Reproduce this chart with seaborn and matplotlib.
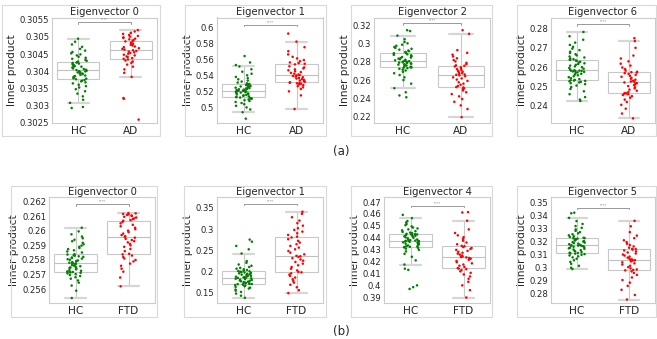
import numpy as np
import pandas as pd
import matplotlib
matplotlib.use("Agg")
import matplotlib.pyplot as plt
import seaborn as sns
from matplotlib.patches import Rectangle
from matplotlib.ticker import MultipleLocator, FuncFormatter

# values (sorted per group)
a0_hc = [0.30292, 0.30295, 0.30307, 0.30316, 0.30326, 0.30334, 0.30341, 0.30347, 0.30352, 0.30356, 0.30360, 0.30364, 0.30367, 0.30370, 0.30372, 0.30374,
         0.30376, 0.30378, 0.30379, 0.30382, 0.30384, 0.30385, 0.30387, 0.30389, 0.30391, 0.30393, 0.30394, 0.30396, 0.30397, 0.30399, 0.30400, 0.30401,
         0.30403, 0.30404, 0.30406, 0.30408, 0.30409, 0.30411, 0.30413, 0.30414, 0.30416, 0.30417, 0.30419, 0.30421, 0.30422, 0.30424, 0.30425, 0.30426,
         0.30428, 0.30430, 0.30433, 0.30436, 0.30439, 0.30442, 0.30446, 0.30449, 0.30452, 0.30456, 0.30460, 0.30465, 0.30471, 0.30478, 0.30486, 0.30495]
a0_ad = [0.30258, 0.30319, 0.30321, 0.30383, 0.30395, 0.30405, 0.30413, 0.30419, 0.30424, 0.30428, 0.30431, 0.30434,
         0.30436, 0.30438, 0.30441, 0.30443, 0.30446, 0.30448, 0.30451, 0.30453, 0.30455, 0.30457, 0.30459, 0.30461,
         0.30463, 0.30465, 0.30467, 0.30470, 0.30472, 0.30475, 0.30477, 0.30480, 0.30482, 0.30484, 0.30487, 0.30489,
         0.30491, 0.30493, 0.30495, 0.30497, 0.30499, 0.30501, 0.30503, 0.30506, 0.30509, 0.30512, 0.30516, 0.30520]

a1_hc = [0.4860, 0.4940, 0.4975, 0.5000, 0.5020, 0.5040, 0.5055, 0.5068, 0.5080, 0.5090, 0.5098, 0.5105, 0.5112, 0.5118, 0.5123, 0.5128,
         0.5132, 0.5138, 0.5144, 0.5150, 0.5156, 0.5162, 0.5168, 0.5174, 0.5180, 0.5185, 0.5190, 0.5195, 0.5199, 0.5203, 0.5206, 0.5208,
         0.5212, 0.5216, 0.5221, 0.5226, 0.5231, 0.5236, 0.5241, 0.5246, 0.5251, 0.5256, 0.5261, 0.5267, 0.5273, 0.5279, 0.5284, 0.5288,
         0.5292, 0.5300, 0.5310, 0.5322, 0.5335, 0.5350, 0.5365, 0.5380, 0.5400, 0.5420, 0.5445, 0.5475, 0.5510, 0.5528, 0.5560, 0.5640]
a1_ad = [0.4980, 0.5150, 0.5200, 0.5230, 0.5250, 0.5265, 0.5278, 0.5288, 0.5295, 0.5300, 0.5305, 0.5308,
         0.5312, 0.5320, 0.5328, 0.5336, 0.5344, 0.5352, 0.5360, 0.5368, 0.5376, 0.5384, 0.5392, 0.5398,
         0.5402, 0.5410, 0.5420, 0.5430, 0.5440, 0.5450, 0.5462, 0.5474, 0.5486, 0.5498, 0.5512, 0.5536,
         0.5544, 0.5552, 0.5560, 0.5575, 0.5590, 0.5610, 0.5630, 0.5660, 0.5700, 0.5750, 0.5820, 0.5920]

a2_hc = [0.2410, 0.2430, 0.2465, 0.2510, 0.2560, 0.2600, 0.2630, 0.2655, 0.2675, 0.2690, 0.2705, 0.2715, 0.2724, 0.2731, 0.2736, 0.2738,
         0.2742, 0.2748, 0.2754, 0.2760, 0.2765, 0.2770, 0.2775, 0.2780, 0.2784, 0.2788, 0.2792, 0.2796, 0.2800, 0.2803, 0.2806, 0.2808,
         0.2812, 0.2818, 0.2824, 0.2830, 0.2836, 0.2842, 0.2848, 0.2854, 0.2860, 0.2866, 0.2872, 0.2878, 0.2884, 0.2890, 0.2895, 0.2898,
         0.2902, 0.2910, 0.2918, 0.2926, 0.2935, 0.2945, 0.2955, 0.2965, 0.2978, 0.2990, 0.3005, 0.3020, 0.3050, 0.3090, 0.3140, 0.3150]
a2_ad = [0.2190, 0.2280, 0.2320, 0.2360, 0.2390, 0.2420, 0.2445, 0.2465, 0.2485, 0.2500, 0.2510, 0.2518,
         0.2522, 0.2535, 0.2548, 0.2560, 0.2575, 0.2590, 0.2605, 0.2618, 0.2630, 0.2642, 0.2652, 0.2658,
         0.2662, 0.2668, 0.2676, 0.2684, 0.2692, 0.2700, 0.2710, 0.2720, 0.2730, 0.2740, 0.2750, 0.2758,
         0.2762, 0.2775, 0.2790, 0.2805, 0.2820, 0.2840, 0.2860, 0.2880, 0.2900, 0.2930, 0.3110, 0.3150]

a3_hc = [0.2425, 0.2432, 0.2445, 0.2460, 0.2475, 0.2487, 0.2497, 0.2505, 0.2512, 0.2517, 0.2521, 0.2524, 0.2527, 0.2529, 0.2531, 0.2532,
         0.2534, 0.2538, 0.2543, 0.2548, 0.2553, 0.2558, 0.2562, 0.2566, 0.2570, 0.2573, 0.2576, 0.2578, 0.2580, 0.2581, 0.2582, 0.2582,
         0.2584, 0.2588, 0.2592, 0.2596, 0.2600, 0.2604, 0.2608, 0.2612, 0.2616, 0.2620, 0.2624, 0.2628, 0.2632, 0.2635, 0.2638, 0.2639,
         0.2641, 0.2645, 0.2650, 0.2655, 0.2661, 0.2667, 0.2673, 0.2680, 0.2688, 0.2696, 0.2705, 0.2715, 0.2727, 0.2742, 0.2760, 0.2782]
a3_ad = [0.2335, 0.2360, 0.2385, 0.2405, 0.2420, 0.2432, 0.2442, 0.2450, 0.2456, 0.2460, 0.2463, 0.2464,
         0.2466, 0.2472, 0.2478, 0.2484, 0.2490, 0.2496, 0.2502, 0.2507, 0.2512, 0.2517, 0.2521, 0.2524,
         0.2526, 0.2530, 0.2535, 0.2540, 0.2545, 0.2550, 0.2555, 0.2560, 0.2565, 0.2569, 0.2572, 0.2574,
         0.2576, 0.2582, 0.2590, 0.2598, 0.2608, 0.2618, 0.2630, 0.2645, 0.2660, 0.2700, 0.2735, 0.2750]

b0_hc = [0.25540, 0.25590, 0.25625, 0.25645, 0.25660, 0.25672, 0.25682, 0.25690, 0.25697, 0.25703, 0.25708, 0.25712, 0.25715, 0.25717, 0.25718, 0.25719,
         0.25721, 0.25726, 0.25731, 0.25736, 0.25741, 0.25745, 0.25749, 0.25753, 0.25757, 0.25761, 0.25765, 0.25769, 0.25772, 0.25775, 0.25777, 0.25779,
         0.25781, 0.25785, 0.25789, 0.25793, 0.25797, 0.25801, 0.25805, 0.25809, 0.25813, 0.25817, 0.25821, 0.25825, 0.25829, 0.25833, 0.25837, 0.25839,
         0.25851, 0.25858, 0.25866, 0.25874, 0.25882, 0.25890, 0.25898, 0.25907, 0.25917, 0.25928, 0.25938, 0.25948, 0.25960, 0.25975, 0.25995, 0.26020]
b0_ftd = [0.25620, 0.25680, 0.25720, 0.25740, 0.25760, 0.25775, 0.25790, 0.25800, 0.25810, 0.25820, 0.25830, 0.25838,
          0.25842, 0.25860, 0.25875, 0.25890, 0.25900, 0.25910, 0.25920, 0.25928, 0.25936, 0.25944, 0.25952, 0.25958,
          0.25962, 0.25970, 0.25980, 0.25990, 0.26000, 0.26010, 0.26020, 0.26030, 0.26040, 0.26050, 0.26060, 0.26068,
          0.26072, 0.26078, 0.26084, 0.26090, 0.26095, 0.26100, 0.26104, 0.26108, 0.26112, 0.26115, 0.26118, 0.26120]

b1_hc = [0.1370, 0.1420, 0.1470, 0.1510, 0.1540, 0.1565, 0.1590, 0.1610, 0.1630, 0.1645, 0.1660, 0.1672, 0.1682, 0.1690, 0.1695, 0.1698,
         0.1702, 0.1712, 0.1722, 0.1732, 0.1742, 0.1752, 0.1762, 0.1772, 0.1782, 0.1792, 0.1802, 0.1812, 0.1822, 0.1832, 0.1842, 0.1848,
         0.1852, 0.1860, 0.1870, 0.1880, 0.1890, 0.1900, 0.1910, 0.1920, 0.1930, 0.1940, 0.1950, 0.1960, 0.1970, 0.1980, 0.1990, 0.1998,
         0.2002, 0.2015, 0.2030, 0.2045, 0.2060, 0.2080, 0.2100, 0.2130, 0.2160, 0.2200, 0.2240, 0.2420, 0.2520, 0.2600, 0.2700, 0.2750]
b1_ftd = [0.1480, 0.1550, 0.1620, 0.1680, 0.1730, 0.1770, 0.1810, 0.1850, 0.1890, 0.1920, 0.1950, 0.1975,
          0.1985, 0.2020, 0.2060, 0.2100, 0.2140, 0.2180, 0.2220, 0.2250, 0.2280, 0.2310, 0.2340, 0.2355,
          0.2365, 0.2400, 0.2440, 0.2480, 0.2520, 0.2560, 0.2600, 0.2640, 0.2680, 0.2720, 0.2760, 0.2800,
          0.2820, 0.2860, 0.2900, 0.2940, 0.2980, 0.3020, 0.3080, 0.3140, 0.3200, 0.3280, 0.3360, 0.3410]

b2_hc = [0.3970, 0.3985, 0.4000, 0.4130, 0.4140, 0.4175, 0.4210, 0.4240, 0.4265, 0.4285, 0.4298, 0.4308, 0.4315, 0.4320, 0.4322, 0.4324,
         0.4326, 0.4330, 0.4335, 0.4340, 0.4345, 0.4350, 0.4354, 0.4358, 0.4362, 0.4366, 0.4369, 0.4371, 0.4373, 0.4374, 0.4374, 0.4375,
         0.4376, 0.4380, 0.4385, 0.4390, 0.4395, 0.4400, 0.4404, 0.4408, 0.4412, 0.4416, 0.4420, 0.4423, 0.4426, 0.4428, 0.4430, 0.4431,
         0.4433, 0.4438, 0.4443, 0.4449, 0.4455, 0.4462, 0.4470, 0.4478, 0.4486, 0.4495, 0.4505, 0.4515, 0.4528, 0.4540, 0.4565, 0.4592]
b2_ftd = [0.3898, 0.3960, 0.4000, 0.4030, 0.4055, 0.4075, 0.4092, 0.4105, 0.4118, 0.4128, 0.4136, 0.4141,
          0.4145, 0.4155, 0.4165, 0.4175, 0.4185, 0.4195, 0.4205, 0.4215, 0.4224, 0.4230, 0.4235, 0.4238,
          0.4242, 0.4250, 0.4258, 0.4266, 0.4274, 0.4282, 0.4290, 0.4298, 0.4306, 0.4314, 0.4322, 0.4328,
          0.4332, 0.4345, 0.4360, 0.4375, 0.4390, 0.4405, 0.4420, 0.4440, 0.4470, 0.4543, 0.4612, 0.4615]

b3_hc = [0.2990, 0.3000, 0.3015, 0.3030, 0.3045, 0.3058, 0.3070, 0.3080, 0.3088, 0.3095, 0.3100, 0.3105, 0.3109, 0.3111, 0.3113, 0.3114,
         0.3116, 0.3121, 0.3126, 0.3131, 0.3136, 0.3141, 0.3146, 0.3150, 0.3154, 0.3158, 0.3162, 0.3165, 0.3168, 0.3170, 0.3171, 0.3172,
         0.3174, 0.3178, 0.3182, 0.3186, 0.3190, 0.3194, 0.3198, 0.3202, 0.3206, 0.3210, 0.3214, 0.3218, 0.3222, 0.3225, 0.3228, 0.3229,
         0.3231, 0.3237, 0.3243, 0.3250, 0.3258, 0.3266, 0.3275, 0.3285, 0.3296, 0.3308, 0.3322, 0.3338, 0.3360, 0.3385, 0.3420, 0.3425]
b3_ftd = [0.2755, 0.2790, 0.2830, 0.2860, 0.2885, 0.2905, 0.2925, 0.2945, 0.2960, 0.2972, 0.2980, 0.2984,
          0.2987, 0.2995, 0.3005, 0.3015, 0.3025, 0.3034, 0.3042, 0.3049, 0.3055, 0.3059, 0.3061, 0.3062,
          0.3064, 0.3070, 0.3078, 0.3086, 0.3094, 0.3102, 0.3110, 0.3118, 0.3126, 0.3134, 0.3140, 0.3144,
          0.3146, 0.3155, 0.3165, 0.3175, 0.3185, 0.3198, 0.3212, 0.3228, 0.3248, 0.3275, 0.3320, 0.3362]

titles = ["Eigenvector 0", "Eigenvector 1", "Eigenvector 2", "Eigenvector 6",
          "Eigenvector 0", "Eigenvector 1", "Eigenvector 4", "Eigenvector 5"]
patients = ["AD", "AD", "AD", "AD", "FTD", "FTD", "FTD", "FTD"]
hc_data = [a0_hc, a1_hc, a2_hc, a3_hc, b0_hc, b1_hc, b2_hc, b3_hc]
pt_data = [a0_ad, a1_ad, a2_ad, a3_ad, b0_ftd, b1_ftd, b2_ftd, b3_ftd]
ylims = [(0.30248, 0.30557), (0.4806, 0.612), (0.2126, 0.329), (0.2311, 0.2857),
         (0.25506, 0.2623), (0.1247, 0.376), (0.3852, 0.4742), (0.2728, 0.3546)]
tick_steps = [0.0005, 0.02, 0.02, 0.01, 0.001, 0.05, 0.01, 0.01]
sig_y = [0.30543, 0.603, 0.3226, 0.2822, 0.2618, 0.359, 0.4667, 0.3460]

# panel layout in pixels: axes (left, right, top, bottom), frame (left, right, top, bottom)
axes_px = [(52, 157, 17.5, 123), (217, 323, 17.5, 123), (374, 490, 17.5, 123), (551, 655, 17.5, 123),
           (49, 155, 197, 303), (217, 323, 197, 303), (384, 490, 197, 303), (551, 655, 197, 303)]
frame_px = [(1.5, 160, 5, 136), (185, 326, 5, 136), (351, 492, 5, 136), (517, 656, 5, 136),
            (11, 157, 186, 317), (184, 326, 186, 317), (351, 492, 186, 317), (517, 656, 186, 317)]

W, H = 657, 339
sns.set_style("white")
plt.rcParams["font.family"] = ["DejaVu Sans"]
fig = plt.figure(figsize=(W / 100, H / 100), dpi=100)

green, red = "#008000", "#ff0000"
gray = "#c8c8c8"

for i in range(8):
    fl, fr, ft, fb = frame_px[i]
    fig.add_artist(Rectangle((fl / W, 1 - fb / H), (fr - fl) / W, (fb - ft) / H,
                             transform=fig.transFigure, fill=False, edgecolor="#d9d9d9", lw=0.8))
    l, r, t, b = axes_px[i]
    ax = fig.add_axes([l / W, 1 - b / H, (r - l) / W, (b - t) / H])
    df = pd.DataFrame({
        "group": ["HC"] * len(hc_data[i]) + [patients[i]] * len(pt_data[i]),
        "value": hc_data[i] + pt_data[i],
    })
    sns.boxplot(data=df, x="group", y="value", ax=ax, width=0.8, showfliers=False,
                color="white", linecolor=gray, linewidth=0.8,
                capprops={"linewidth": 1.6, "color": "#d6d6d6"},
                medianprops={"color": "#c0c0c0"})
    sns.stripplot(data=df, x="group", y="value", hue="group", palette=[green, red],
                  ax=ax, size=1.8, jitter=0.16, legend=False, zorder=3)
    ax.set_ylim(*ylims[i])
    ax.set_xlim(-0.5, 1.5)
    ax.yaxis.set_major_locator(MultipleLocator(tick_steps[i]))
    ax.yaxis.set_major_formatter(FuncFormatter(lambda v, p: f"{v:g}"))
    ax.tick_params(axis="y", labelsize=6.1, length=0, pad=2)
    ax.tick_params(axis="x", labelsize=7.6, length=0, pad=2)
    ax.set_xlabel("")
    ax.set_ylabel("Inner product", fontsize=7.6, labelpad=2)
    ax.set_title(titles[i], fontsize=7.2, pad=1.5)
    for s in ax.spines.values():
        s.set_color("#cccccc")
        s.set_linewidth(0.8)
    # significance bracket
    y = sig_y[i]
    h = (ylims[i][1] - ylims[i][0]) * 0.012
    ax.plot([0, 0, 1, 1], [y - h, y, y, y - h], color="#999999", lw=0.7)
    ax.text(0.5, y + h * 0.6, "****", ha="center", va="bottom", fontsize=2.5, color="#777777")

fig.text(341.6 / W, 1 - 151.5 / H, "(a)", ha="center", va="center", fontsize=8.5)
fig.text(341.6 / W, 1 - 331.5 / H, "(b)", ha="center", va="center", fontsize=8.5)

fig.savefig("out.png", dpi=100)
